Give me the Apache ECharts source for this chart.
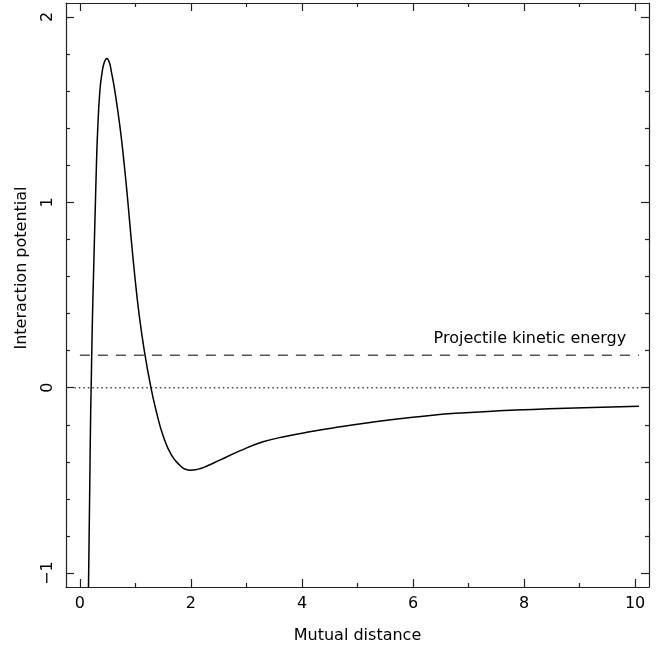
<!DOCTYPE html>
<html><head><meta charset="utf-8">
<script src="https://cdn.jsdelivr.net/npm/echarts@6/dist/echarts.min.js"></script>
<style>html,body{margin:0;padding:0;background:#fff}#c{width:663px;height:653px}</style>
</head><body><div id="c"></div>
<script>
// ---- data ----
const distance  = [0.150, 0.175, 0.195, 0.203, 0.215, 0.228, 0.245, 0.262, 0.280, 0.298, 0.322, 0.360, 0.400, 0.440, 0.486,
                   0.530, 0.570, 0.630, 0.725, 0.800, 0.865, 0.925, 0.990, 1.065, 1.160, 1.280, 1.370, 1.500, 1.650, 1.800,
                   1.900, 2.000, 2.100, 2.220, 2.520, 2.880, 3.300, 3.720, 4.140, 4.600, 5.160, 5.750, 6.350, 6.950, 7.550,
                   8.150, 8.750, 9.400, 10.070];
const potential = [-1.200, -0.600, -0.120, 0.000, 0.200, 0.400, 0.600, 0.800, 1.000, 1.200, 1.400, 1.600, 1.700, 1.755, 1.776,
                   1.755, 1.700, 1.600, 1.400, 1.200, 1.000, 0.800, 0.600, 0.400, 0.200, 0.000, -0.120, -0.260, -0.364, -0.418,
                   -0.440, -0.445, -0.441, -0.431, -0.391, -0.341, -0.292, -0.262, -0.238, -0.215, -0.190, -0.168, -0.148, -0.135, -0.125,
                   -0.117, -0.111, -0.105, -0.100];
const kineticEnergy = 0.175;
const energyLineX = [0, 10.07];
const zeroLineX = [-0.1, 10.13];
const energyLabel = 'Projectile kinetic energy';
const energyLabelAnchor = [9.84, 0.222];
const xMajorTicks = [0, 2, 4, 6, 8, 10];
const xMinorTicks = [1, 3, 5, 7, 9];
const yMajorTicks = [-1, 0, 1, 2];
const yMinorTicks = [-0.8, -0.6, -0.4, -0.2, 0.2, 0.4, 0.6, 0.8, 1.2, 1.4, 1.6, 1.8];
const xRange = [-0.25, 10.25];
const yRange = [-1.075, 2.075];
const xName = 'Mutual distance';
const yName = 'Interaction potential';

// ---- chart ----
const FONT = 'DejaVu Sans';
const AX = '#222';
const TXT = '#000';
const chart = echarts.init(document.getElementById('c'), null, {renderer: 'canvas'});
const fmt = v => (v < 0 ? '\u2212' + Math.abs(v) : String(v));

function xAx(pos, ticks, len, withLine, withLabel) {
  return {
    type: 'value', position: pos, min: xRange[0], max: xRange[1],
    splitLine: {show: false},
    axisLine: {show: withLine, onZero: false, lineStyle: {color: AX, width: 1.2}},
    axisTick: {show: true, inside: true, length: len, customValues: ticks, lineStyle: {color: AX, width: 1.2}},
    axisLabel: withLabel ? {show: true, customValues: ticks, margin: 9, fontFamily: FONT, fontSize: 16, color: TXT, formatter: fmt} : {show: false},
    name: withLabel ? xName : '', nameLocation: 'middle', nameGap: 41,
    nameTextStyle: {fontFamily: FONT, fontSize: 16, color: TXT}
  };
}
function yAx(pos, ticks, len, withLine, withLabel) {
  return {
    type: 'value', position: pos, min: yRange[0], max: yRange[1],
    splitLine: {show: false},
    axisLine: {show: withLine, onZero: false, lineStyle: {color: AX, width: 1.2}},
    axisTick: {show: true, inside: true, length: len, customValues: ticks, lineStyle: {color: AX, width: 1.2}},
    axisLabel: withLabel ? {show: true, customValues: ticks, rotate: 90, margin: 10, fontFamily: FONT, fontSize: 16, color: TXT, formatter: fmt} : {show: false},
    name: withLabel ? yName : '', nameLocation: 'middle', nameGap: 36, nameRotate: 90,
    nameTextStyle: {fontFamily: FONT, fontSize: 16, color: TXT, padding: [0, 0, 0, 54]}
  };
}

const curve = distance.map((d, i) => [d, potential[i]]);

chart.setOption({
  animation: false,
  backgroundColor: '#fff',
  grid: {left: 66, right: 14, top: 3, bottom: 66, containLabel: false},
  xAxis: [
    xAx('bottom', xMajorTicks, 8, true, true),
    xAx('bottom', xMinorTicks, 4, false, false),
    xAx('top', xMajorTicks, 8, true, false),
    xAx('top', xMinorTicks, 4, false, false)
  ],
  yAxis: [
    yAx('left', yMajorTicks, 8, true, true),
    yAx('left', yMinorTicks, 4, false, false),
    yAx('right', yMajorTicks, 8, true, false),
    yAx('right', yMinorTicks, 4, false, false)
  ],
  series: [
    {
      type: 'line', xAxisIndex: 0, yAxisIndex: 0, symbol: 'none', clip: true,
      data: zeroLineX.map(x => [x, 0]),
      lineStyle: {color: '#444', width: 1.6, type: [1.5, 3]}, z: 2
    },
    {
      type: 'line', xAxisIndex: 0, yAxisIndex: 0, symbol: 'none', clip: true,
      data: energyLineX.map(x => [x, kineticEnergy]),
      lineStyle: {color: '#555', width: 1.4, type: [10, 8]}, z: 2
    },
    {
      type: 'line', xAxisIndex: 0, yAxisIndex: 0, symbol: 'none', clip: true,
      smooth: 0.5,
      data: curve,
      lineStyle: {color: '#000', width: 1.5}, z: 3
    },
    {
      type: 'scatter', xAxisIndex: 0, yAxisIndex: 0, symbolSize: 0.1,
      itemStyle: {color: 'rgba(0,0,0,0)', opacity: 1},
      emphasis: {disabled: true},
      data: [energyLabelAnchor],
      label: {show: true, formatter: energyLabel, position: [0, 0], align: 'right', verticalAlign: 'bottom',
              fontFamily: FONT, fontSize: 16, color: TXT},
      z: 4
    }
  ]
});
</script></body></html>
